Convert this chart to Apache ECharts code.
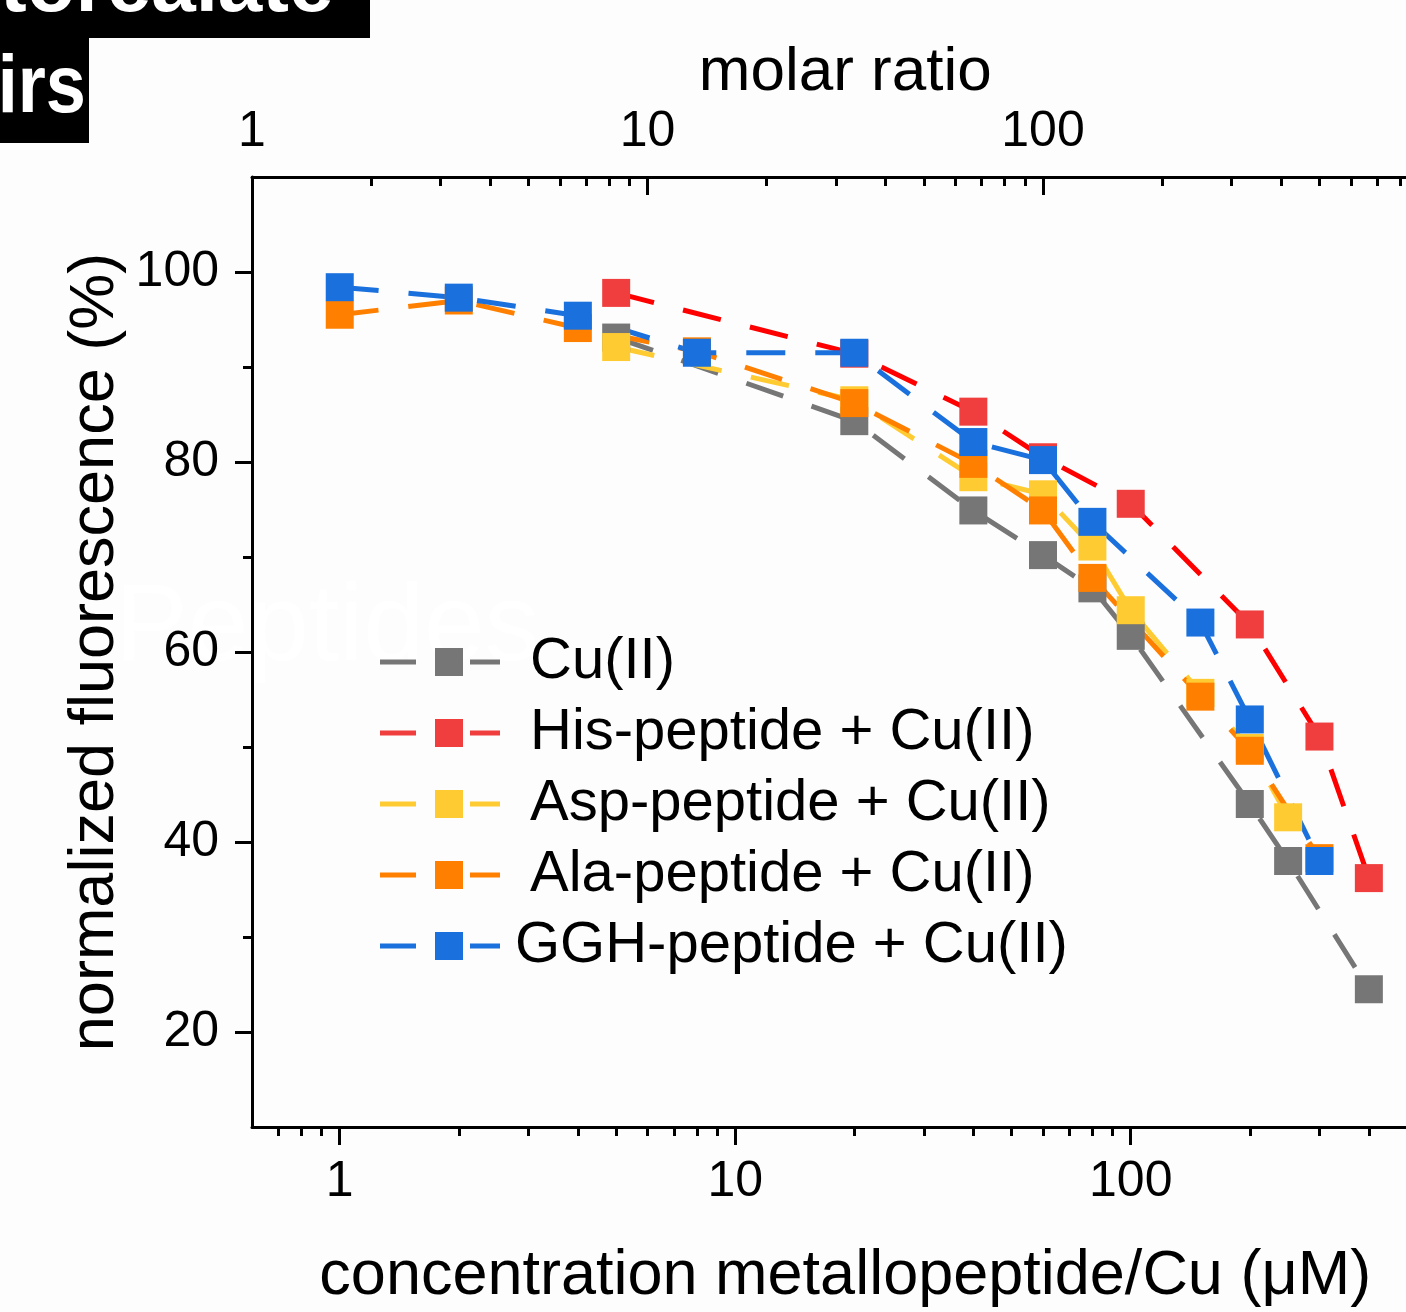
<!DOCTYPE html>
<html><head><meta charset="utf-8">
<script src="https://cdn.jsdelivr.net/npm/echarts@6/dist/echarts.min.js"></script>
<style>html,body{margin:0;padding:0;background:#fdfdfd;} #c{width:1406px;height:1312px;}</style>
</head><body><div id="c"></div>
<script>
const seriesNames = ['Cu(II)', 'His-peptide + Cu(II)', 'Asp-peptide + Cu(II)', 'Ala-peptide + Cu(II)', 'GGH-peptide + Cu(II)'];
const cuX  = [5, 20, 40, 60, 80, 100, 200, 250, 400];
const cuY  = [93.1, 84.3, 74.9, 70.2, 66.7, 61.7, 44.0, 38.0, 24.5];
const hisX = [5, 20, 40, 60, 100, 200, 300, 400];
const hisY = [97.8, 91.4, 85.3, 80.5, 75.6, 62.9, 51.1, 36.2];
const aspX = [5, 20, 40, 60, 80, 100, 150, 200, 250];
const aspY = [92.1, 86.5, 78.4, 76.6, 71.1, 64.4, 55.7, 49.9, 42.6];
const alaX = [1, 2, 4, 8, 20, 40, 60, 80, 150, 200, 300];
const alaY = [95.5, 97.0, 94.1, 91.65, 86.2, 79.8, 74.9, 67.8, 55.3, 49.6, 38.3];
const gghX = [1, 2, 4, 8, 20, 40, 60, 80, 150, 200, 300];
const gghY = [98.4, 97.3, 95.4, 91.5, 91.5, 82.1, 80.2, 73.7, 63.1, 52.9, 38.0];
const bottomMajor = [1, 10, 100];
const bottomMinor = [0.7, 0.8, 0.9, 2, 3, 4, 5, 6, 7, 8, 9, 20, 30, 40, 50, 60, 70, 80, 90, 200, 300, 400, 500];
const topMajor = [1, 10, 100];
const topMinor = [2, 3, 4, 5, 6, 7, 8, 9, 20, 30, 40, 50, 60, 70, 80, 90, 200, 300, 400, 500, 600, 700, 800, 900];
const yMajor = [20, 40, 60, 80, 100];
const yMinor = [30, 50, 70, 90];

const FF = '"Liberation Sans", Arial, sans-serif';
const lineColors = ['#767676', '#ff0000', '#ffcb33', '#ff8000', '#1a70dc'];
const markColors = ['#767676', '#f03e3e', '#ffcb33', '#ff8000', '#1a70dc'];
const xs = [cuX, hisX, aspX, alaX, gghX];
const ys = [cuY, hisY, aspY, alaY, gghY];

const series = seriesNames.map((name, k) => ({
  type: 'line', name: name, xAxisIndex: 0, yAxisIndex: 0,
  data: xs[k].map((x, i) => [x, ys[k][i]]),
  symbol: 'rect', symbolSize: 28, showSymbol: true,
  lineStyle: { color: lineColors[k], width: 5, type: [39, 30] },
  itemStyle: { color: markColors[k], borderWidth: 0 },
  emphasis: { disabled: true },
  animation: false
}));

const legendIcon = 'path://M0,11.5h36v5H0z M55,0h28v28H55z M90,11.5h30v5H90z';

const axisLineStyle = { show: true, onZero: false, lineStyle: { color: '#000', width: 3 } };

const chart = echarts.init(document.getElementById('c'), null, { renderer: 'canvas' });
chart.setOption({
  backgroundColor: '#fdfdfd',
  animation: false,
  textStyle: { fontFamily: FF },
  grid: { left: 252, top: 177, right: -32.5, bottom: 185, outerBoundsMode: 'none', containLabel: false },
  legend: {
    orient: 'vertical', left: 380, top: 633, padding: 0, itemGap: 13,
    itemWidth: 120, itemHeight: 28, selectedMode: false,
    icon: legendIcon,
    itemStyle: { borderWidth: 0 },
    textStyle: { fontSize: 58, lineHeight: 58, color: '#000', fontFamily: FF, padding: [0, 0, 0, 25] },
    data: seriesNames.map((n, i) => i === 4 ? { name: n, icon: legendIcon, textStyle: { padding: [0, 0, 0, 10] } } : { name: n, icon: legendIcon })
  },
  xAxis: [
    { type: 'log', min: 0.6, max: 600, position: 'bottom',
      axisLine: axisLineStyle,
      axisTick: { show: true, inside: false, length: 18, customValues: bottomMajor, lineStyle: { color: '#000', width: 3 } },
      axisLabel: { show: true, customValues: bottomMajor, fontSize: 50, color: '#000', margin: 30, fontFamily: FF },
      splitLine: { show: false },
      name: 'concentration metallopeptide/Cu (μM)', nameLocation: 'middle', nameGap: 118, nameMoveOverlap: false,
      nameTextStyle: { fontSize: 63, color: '#000', fontFamily: FF } },
    { type: 'log', min: 0.6, max: 600, position: 'bottom',
      axisLine: { show: false, onZero: false },
      axisTick: { show: true, inside: false, length: 9, customValues: bottomMinor, lineStyle: { color: '#000', width: 3 } },
      axisLabel: { show: false }, splitLine: { show: false } },
    { type: 'log', min: 1, max: 1000, position: 'top',
      axisLine: axisLineStyle,
      axisTick: { show: true, inside: true, length: 18, customValues: topMajor, lineStyle: { color: '#000', width: 3 } },
      axisLabel: { show: true, customValues: topMajor, fontSize: 50, color: '#000', margin: 20, fontFamily: FF },
      splitLine: { show: false },
      name: 'molar ratio', nameLocation: 'middle', nameGap: 73, nameMoveOverlap: false,
      nameTextStyle: { fontSize: 62, color: '#000', fontFamily: FF } },
    { type: 'log', min: 1, max: 1000, position: 'top',
      axisLine: { show: false, onZero: false },
      axisTick: { show: true, inside: true, length: 9, customValues: topMinor, lineStyle: { color: '#000', width: 3 } },
      axisLabel: { show: false }, splitLine: { show: false } }
  ],
  yAxis: [
    { type: 'value', min: 10, max: 110, position: 'left',
      axisLine: axisLineStyle,
      axisTick: { show: true, inside: false, length: 17, customValues: yMajor, lineStyle: { color: '#000', width: 3 } },
      axisLabel: { show: true, customValues: yMajor, fontSize: 50, color: '#000', margin: 33, fontFamily: FF },
      splitLine: { show: false },
      name: 'normalized fluorescence (%)', nameLocation: 'middle', nameGap: 125, nameMoveOverlap: false,
      nameTextStyle: { fontSize: 63, color: '#000', fontFamily: FF } },
    { type: 'value', min: 10, max: 110, position: 'left',
      axisLine: { show: false, onZero: false },
      axisTick: { show: true, inside: false, length: 9, customValues: yMinor, lineStyle: { color: '#000', width: 3 } },
      axisLabel: { show: false }, splitLine: { show: false } }
  ],
  graphic: [
    { type: 'text', x: 115, y: 684, z: -10, silent: true,
      style: { text: 'Peptides', font: '109px "Liberation Sans", Arial, sans-serif', fill: '#ffffff', verticalAlign: 'bottom' } },
    { type: 'rect', shape: { x: 0, y: 0, width: 370, height: 38 }, style: { fill: '#000' }, z: 100 },
    { type: 'rect', shape: { x: 0, y: 37, width: 89, height: 106 }, style: { fill: '#000' }, z: 100 },
    { type: 'text', x: 0, y: 29, z: 101,
      style: { text: 'torealate', font: 'bold 80px "Liberation Sans", Arial, sans-serif', fill: '#fff', verticalAlign: 'bottom' } },
    { type: 'text', x: 86, y: 130, z: 101, scaleX: 0.88,
      style: { text: 'irs', font: 'bold 82px "Liberation Sans", Arial, sans-serif', fill: '#fff', align: 'right', verticalAlign: 'bottom' } }
  ],
  series: series
});
</script></body></html>
